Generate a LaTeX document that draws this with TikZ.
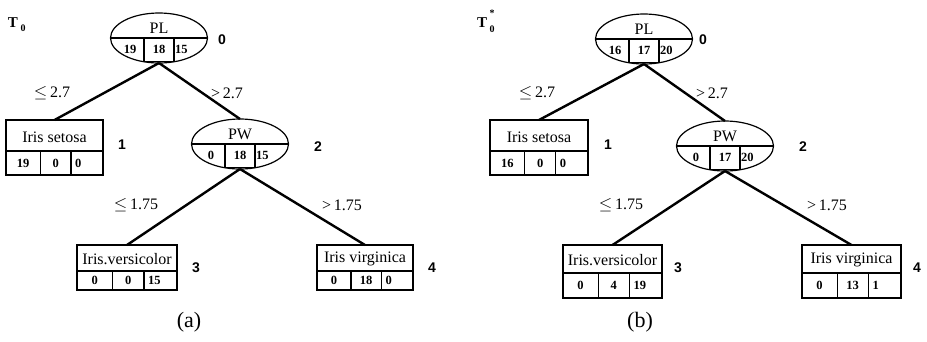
\documentclass[tikz,border=0pt]{standalone}
\usepackage{fontspec}
\setmainfont{Liberation Serif}
\newfontfamily\labsans{Liberation Sans}
\usetikzlibrary{shapes.geometric}
\tikzset{
  ellbox/.style={draw, ellipse, line width=1.2pt, minimum width=97pt, minimum height=50pt, inner sep=0pt, outer sep=0pt},
  leafrect/.style={draw, rectangle, line width=1.1pt, inner sep=0pt, outer sep=0pt, anchor=north west},
  cellline/.style={line width=1.3pt},
  conn/.style={line width=2.4pt},
  titletext/.style={font=\fontsize{16}{17}\selectfont, inner sep=0pt},
  numtext/.style={font=\fontsize{12.5}{13}\selectfont\bfseries, inner sep=0pt},
  edgetext/.style={font=\fontsize{16}{17}\selectfont, inner sep=0pt},
  idxtext/.style={font=\labsans\fontsize{14}{15}\selectfont\bfseries, inner sep=0pt},
  captext/.style={font=\fontsize{22}{24}\selectfont, inner sep=0pt},
  ttext/.style={font=\fontsize{15}{16}\selectfont\bfseries, inner sep=0pt},
  tsmall/.style={font=\fontsize{10}{11}\selectfont\bfseries, inner sep=0pt},
}
\newcommand{\bu}{31}
\newcommand{\bl}{24}
% name, left, top, width, title, a, b, c
\newcommand{\leafnode}[8]{%
  \pgfmathsetmacro{\bh}{\bu+\bl}%
  \node[leafrect, minimum width=#4 pt, minimum height=\bh pt] (#1) at (#2,#3) {};
  \draw[cellline] (#2,#3+\bu) -- (#2+#4,#3+\bu);
  \draw[cellline] (#2+0.355*#4,#3+\bu) -- (#2+0.355*#4,#3+\bu+\bl);
  \draw[cellline] (#2+0.67*#4,#3+\bu) -- (#2+0.67*#4,#3+\bu+\bl);
  \node[titletext] (#1-t) at (#2+0.5*#4,#3+0.55*\bu) {#5};
  \node[numtext] (#1-a) at (#2+0.1775*#4,#3+\bu+0.5*\bl) {#6};
  \node[numtext] (#1-b) at (#2+0.5125*#4,#3+\bu+0.5*\bl) {#7};
  \node[numtext, anchor=west] (#1-c) at (#2+0.67*#4+4,#3+\bu+0.5*\bl) {#8};
}
% name, cx, cy, title, a, b, c
\newcommand{\splitnode}[7]{%
  \node[ellbox] (#1) at (#2,#3) {};
  \draw[cellline] (#1.west) -- (#1.east);
  \draw[cellline] (#2-15,#3) -- (#2-15,#3+23.5) -- (#2+15,#3+23.5) -- (#2+15,#3);
  \node[titletext] (#1-t) at (#2,#3-10) {#4};
  \node[numtext] (#1-a) at (#2-29,#3+11.5) {#5};
  \node[numtext] (#1-b) at (#2,#3+11.5) {#6};
  \node[numtext, anchor=west] (#1-c) at (#2+16,#3+11.5) {#7};
}
\begin{document}
\begin{tikzpicture}[x=1pt, y=-1pt]
\useasboundingbox (0,0) rectangle (927,341);
% ---------------- tree (a)
\node[ttext] (Ta) at (13,23) {T};
\node[tsmall] (Ta0) at (23,28) {0};
\splitnode{a0}{159}{38}{PL}{19}{18}{15}
\splitnode{a2}{240}{144}{PW}{0}{18}{15}
\renewcommand{\bu}{31}\renewcommand{\bl}{24}
\leafnode{a1}{6}{120}{97}{Iris setosa}{19}{0}{0}
\renewcommand{\bu}{26}\renewcommand{\bl}{19}
\leafnode{a3}{77}{245}{100}{Iris.versicolor}{0}{0}{15}
\leafnode{a4}{317}{245}{96}{Iris virginica}{0}{18}{0}
\draw[conn] (a0.south) -- (a1.north);
\draw[conn] (a0.south) -- (a2.north);
\draw[conn] (a2.south) -- (a3.north);
\draw[conn] (a2.south) -- (a4.north);
\node[edgetext] (ea1) at (52,93) {$\leq$\,2.7};
\node[edgetext] (ea2) at (227,93) {>\,2.7};
\node[edgetext] (ea3) at (136,205) {$\leq$\,1.75};
\node[edgetext] (ea4) at (342,205) {>\,1.75};
\node[idxtext] (ia0) at (222,40) {0};
\node[idxtext] (ia1) at (122,145) {1};
\node[idxtext] (ia2) at (318,147) {2};
\node[idxtext] (ia3) at (196,268) {3};
\node[idxtext] (ia4) at (432,268) {4};
\node[captext] (capa) at (189,322) {(a)};
% ---------------- tree (b)
\node[ttext] (Tb) at (482,23) {T};
\node[tsmall] (Tb0) at (492,29) {0};
\node[tsmall] (Tbs) at (492,13) {*};
\splitnode{b0}{644}{39}{PL}{16}{17}{20}
\splitnode{b2}{725}{146}{PW}{0}{17}{20}
\renewcommand{\bu}{31}\renewcommand{\bl}{24}
\leafnode{b1}{490}{120}{98}{Iris setosa}{16}{0}{0}
\renewcommand{\bu}{28}\renewcommand{\bl}{25}
\leafnode{b3}{563}{245}{99}{Iris.versicolor}{0}{4}{19}
\leafnode{b4}{802}{245}{99}{Iris virginica}{0}{13}{1}
\draw[conn] (b0.south) -- (b1.north);
\draw[conn] (b0.south) -- (b2.north);
\draw[conn] (b2.south) -- (b3.north);
\draw[conn] (b2.south) -- (b4.north);
\node[edgetext] (eb1) at (537,93) {$\leq$\,2.7};
\node[edgetext] (eb2) at (712,93) {>\,2.7};
\node[edgetext] (eb3) at (621,205) {$\leq$\,1.75};
\node[edgetext] (eb4) at (827,205) {>\,1.75};
\node[idxtext] (ib0) at (703,40) {0};
\node[idxtext] (ib1) at (608,145) {1};
\node[idxtext] (ib2) at (803,147) {2};
\node[idxtext] (ib3) at (678,268) {3};
\node[idxtext] (ib4) at (917,268) {4};
\node[captext] (capb) at (640,322) {(b)};
\end{tikzpicture}
\end{document}
